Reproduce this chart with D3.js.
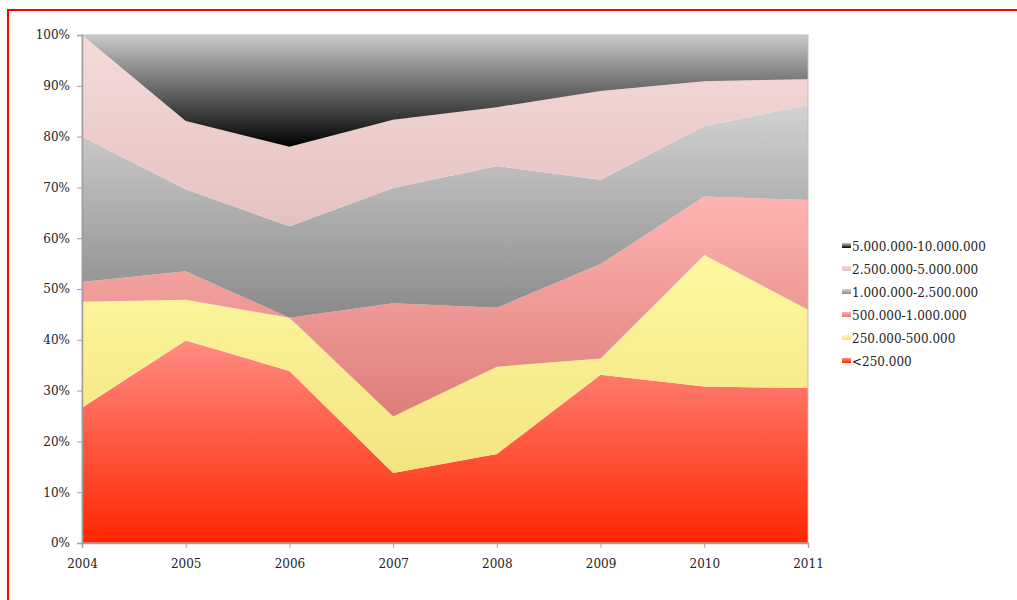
<!DOCTYPE html>
<html>
<head>
<meta charset="utf-8">
<script src="https://cdn.jsdelivr.net/npm/d3@7"></script>
<style>
  body { margin: 0; background: #fff; }
  svg text { font-family: "DejaVu Serif", Georgia, serif; fill: #222; }
</style>
</head>
<body>
<svg id="chart"></svg>
<script>
var years = [2004, 2005, 2006, 2007, 2008, 2009, 2010, 2011];
var seriesNames = ["<250.000", "250.000-500.000", "500.000-1.000.000",
                   "1.000.000-2.500.000", "2.500.000-5.000.000", "5.000.000-10.000.000"];
// share per class, in percent, bottom to top
var s250 = [26.6, 39.8, 33.9, 13.8, 17.5, 33.1, 30.8, 30.5];
var s500 = [20.9, 8.0, 10.5, 11.1, 17.2, 3.2, 25.9, 15.4];
var s1m = [3.9, 5.6, 0.0, 22.3, 11.6, 18.6, 11.5, 21.6];
var s25m = [28.6, 16.1, 18.0, 22.7, 27.9, 16.6, 13.9, 18.7];
var s5m = [20.0, 13.4, 15.7, 13.4, 11.6, 17.5, 8.8, 5.1];
var s10m = [0.0, 16.9, 22.0, 16.7, 14.2, 11.0, 9.1, 8.7];
var yTicks = [0, 0.1, 0.2, 0.3, 0.4, 0.5, 0.6, 0.7, 0.8, 0.9, 1.0];

// gradient stops top -> bottom, one pair per series
var grads = [
  ["#ff8c84", "#ff2600"],
  ["#fdf8a2", "#f3e47e"],
  ["#ffb4b2", "#dd7e7a"],
  ["#d2d2d2", "#8a8a8a"],
  ["#f6dada", "#e4c2c0"],
  ["#cacaca", "#000000"]
];

var allSeries = [s250, s500, s1m, s25m, s5m, s10m];
var rows = years.map(function(y, i){
  var r = {year: y};
  seriesNames.forEach(function(k, j){ r[k] = allSeries[j][i]; });
  return r;
});

var margin = {top: 35, right: 209, bottom: 57, left: 82},
    width = 1017 - margin.left - margin.right,
    height = 600 - margin.top - margin.bottom;

var svg = d3.select("#chart")
    .attr("width", 1017)
    .attr("height", 600);

// red page frame (only top and left visible)
svg.append("rect")
    .attr("x", 8).attr("y", 10)
    .attr("width", 1100).attr("height", 700)
    .attr("fill", "none")
    .attr("stroke", "#ff0000")
    .attr("stroke-width", 2);

var defs = svg.append("defs");
grads.forEach(function(g, i){
  var lg = defs.append("linearGradient")
      .attr("id", "g" + i)
      .attr("x1", 0).attr("y1", 0).attr("x2", 0).attr("y2", 1);
  lg.append("stop").attr("offset", "0%").attr("stop-color", g[0]);
  lg.append("stop").attr("offset", "100%").attr("stop-color", g[1]);
});

var g = svg.append("g")
    .attr("transform", "translate(" + margin.left + "," + margin.top + ")");

var x = d3.scaleLinear().domain(d3.extent(years)).range([0, width]);
var y = d3.scaleLinear().domain([0, 1]).range([height, 0]);

var stack = d3.stack().keys(seriesNames).offset(d3.stackOffsetExpand);
var layers = stack(rows);

var area = d3.area()
    .x(function(d){ return x(d.data.year); })
    .y0(function(d){ return y(d[0]); })
    .y1(function(d){ return y(d[1]); });

g.selectAll(".layer")
    .data(layers)
  .enter().append("path")
    .attr("class", "layer")
    .attr("d", area)
    .attr("fill", function(d, i){ return "url(#g" + i + ")"; });

// plot frame
g.append("rect")
    .attr("width", width).attr("height", height)
    .attr("fill", "none")
    .attr("stroke", "#bdbdbd")
    .attr("stroke-width", 1);

var yAxis = d3.axisLeft(y).tickValues(yTicks)
    .tickFormat(d3.format(".0%")).tickSize(5).tickPadding(7);
var xAxis = d3.axisBottom(x).tickValues(years)
    .tickFormat(d3.format("d")).tickSize(5).tickPadding(11);

var ya = g.append("g").call(yAxis);
var xa = g.append("g").attr("transform", "translate(0," + height + ")").call(xAxis);
[ya, xa].forEach(function(a){
  a.select(".domain").attr("stroke", "#a0a0a0").attr("stroke-width", 1.5);
  a.selectAll(".tick line").attr("stroke", "#a0a0a0");
  a.selectAll("text").attr("font-size", "12px").attr("fill", "#222");
});

// legend, top entry is the top layer
var legend = svg.append("g").attr("transform", "translate(842,243)");
var items = seriesNames.slice().reverse();
items.forEach(function(name, i){
  var idx = seriesNames.indexOf(name);
  var row = legend.append("g").attr("transform", "translate(0," + (i * 23) + ")");
  row.append("rect")
      .attr("width", 9).attr("height", 5)
      .attr("fill", "url(#g" + idx + ")");
  row.append("text")
      .attr("x", 10).attr("y", 8)
      .attr("font-size", "12px")
      .text(name);
});
</script>
</body>
</html>
